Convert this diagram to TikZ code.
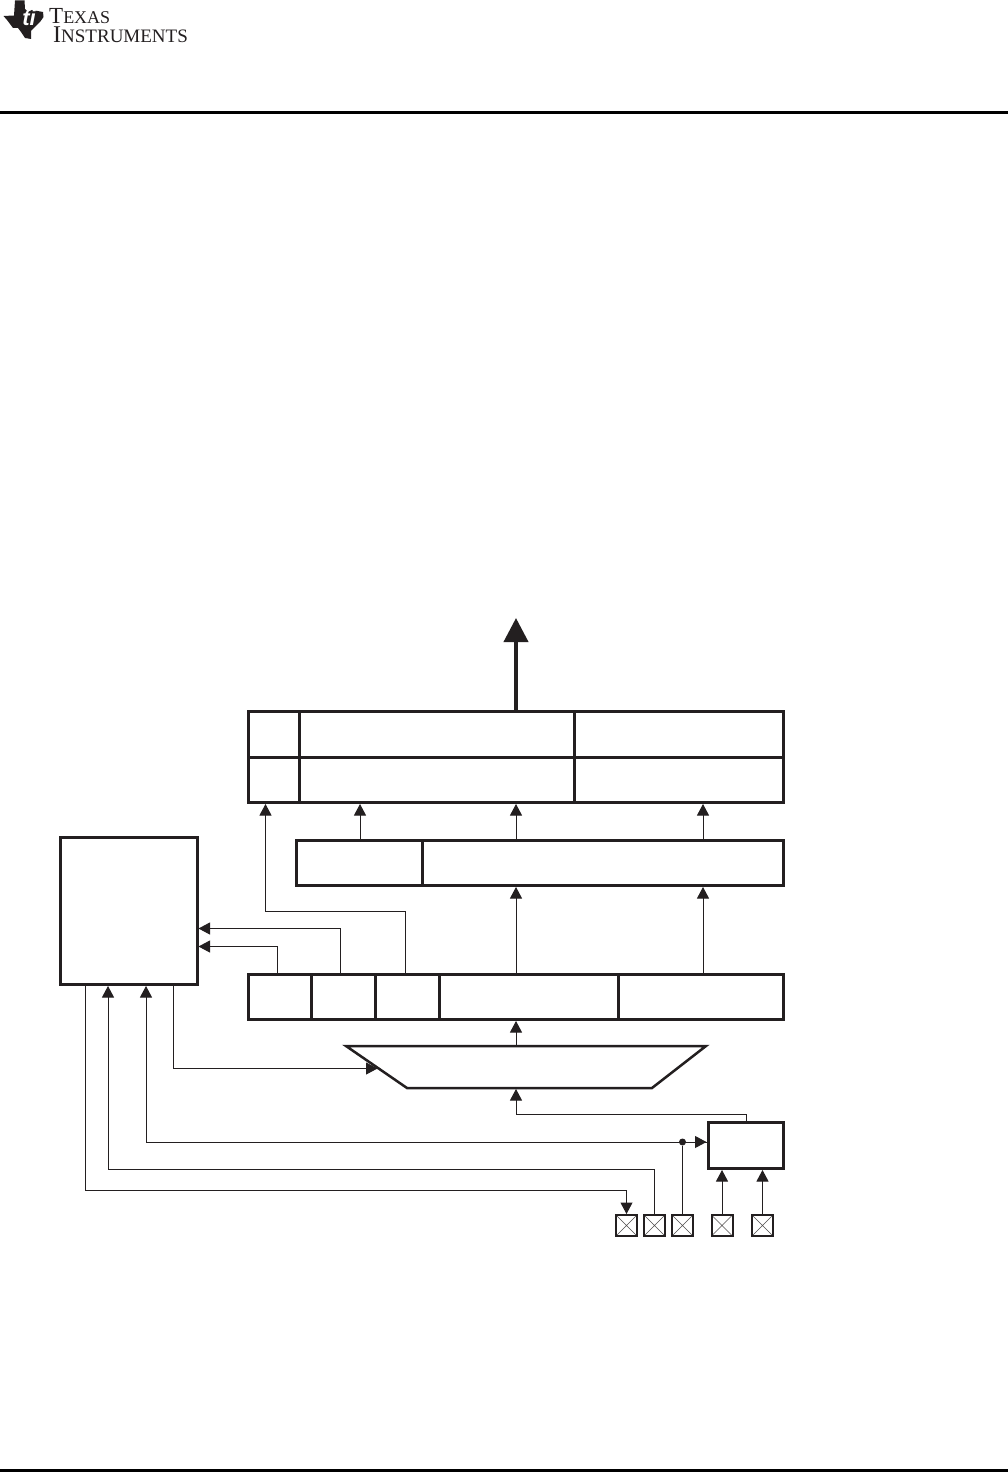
\documentclass[tikz,border=0pt]{standalone}
\usepackage{fontspec}
\setmainfont{Liberation Serif}
\newfontfamily\logosans{Liberation Sans}
\usetikzlibrary{arrows.meta}
\definecolor{ink}{HTML}{231F20}
\newcommand{\cellbox}[5]{\node[boxcell,minimum width={(#4-#2)*1pt},minimum height={(#5-#3)*1pt}] (#1) at ({(#2+#4)/2},{(#3+#5)/2}) {};}
\newcommand{\logoword}[2]{{\fontsize{#1}{19}\selectfont #2}}
\tikzset{
  boxcell/.style={draw=ink,line width=3pt,fill=white,inner sep=0pt},
  pinbox/.style={draw=ink,line width=2pt,fill=white,inner sep=0pt,minimum size=21pt,
    path picture={\draw[ink!80,line width=0.6pt] (path picture bounding box.north west)--(path picture bounding box.south east)
      (path picture bounding box.north east)--(path picture bounding box.south west);}},
  wire/.style={draw=ink,line width=1pt},
  arr/.style={wire,-{Triangle[length=11.5pt,width=12pt]}},
  bigarr/.style={draw=ink,line width=4pt,-{Triangle[length=24pt,width=24pt]}},
  joint/.style={circle,fill=ink,inner sep=0pt,minimum size=7pt},
}
\begin{document}
\begin{tikzpicture}[x=1pt,y=-1pt]
\useasboundingbox (0,0) rectangle (1008,1472);
\fill[white] (0,0) rectangle (1008,1472);
% page furniture
\fill[black] (0,111) rectangle (1008,114);
\fill[black] (0,1469) rectangle (1008,1472);
\fill[ink] (3.5,16) -- (14,15.5) -- (15,0.5) -- (24.5,0.5) -- (25,9) -- (28,12) -- (32,10) -- (43,12) -- (43.5,17) -- (40,22) -- (35,27) -- (31,31) -- (31,39) -- (25,38) -- (21,32) -- (18,28) -- (13,28) -- (10,24) -- (7,20) -- cycle;
\node[white,anchor=center,inner sep=0pt] (logomark) at (29,18) {\logosans\fontsize{22}{22}\selectfont\itshape\bfseries ti};
\node[ink,anchor=base west,inner sep=0pt,align=left,font=\fontsize{19}{19}\selectfont] (logoname) at (49,43) {\logoword{23}{T}\logoword{18}{EXAS}\\\hspace*{4pt}\logoword{24}{I}\logoword{19}{NSTRUMENTS}};
% top register
\cellbox{ta}{248.5}{711.5}{299.5}{757}
\cellbox{tb}{299.5}{711.5}{574.5}{757}
\cellbox{tc}{574.5}{711.5}{783}{757}
\cellbox{tfa}{248.5}{757}{299.5}{802.5}
\cellbox{tfb}{299.5}{757}{574.5}{802.5}
\cellbox{tfc}{574.5}{757}{783}{802.5}
% middle register
\cellbox{ma}{296.5}{840.5}{422.5}{885.5}
\cellbox{mb}{422.5}{840.5}{783}{885.5}
% lower register
\cellbox{la}{248.5}{974.5}{311.5}{1019.5}
\cellbox{lb}{311.5}{974.5}{375.5}{1019.5}
\cellbox{lc}{375.5}{974.5}{439.5}{1019.5}
\cellbox{ld}{439.5}{974.5}{618.5}{1019.5}
\cellbox{le}{618.5}{974.5}{783}{1019.5}
% control and oscillator
\cellbox{ctrl}{60.5}{837}{197}{984.5}
\cellbox{osc}{708}{1122.5}{783}{1168.5}
% pins
\node[pinbox] (p1) at (626.5,1225.5) {};
\node[pinbox] (p2) at (654.5,1225.5) {};
\node[pinbox] (p3) at (682.5,1225.5) {};
\node[pinbox] (p4) at (722,1225.5) {};
\node[pinbox] (p5) at (762.5,1225.5) {};
% mux
\coordinate (mtl) at (346,1046);
\coordinate (mtr) at (706,1046);
\coordinate (mbr) at (652,1088);
\coordinate (mbl) at (407,1088);
\coordinate (mside) at (377.5,1069);
\coordinate (mtop) at (516.5,1045);
\coordinate (mbot) at (516.5,1089);
\draw[ink,line width=2.5pt,line join=miter] (mtl) -- (mtr) -- (mbr) -- (mbl) -- cycle;
% x guides
\coordinate (x85) at (85.5,0);
\coordinate (x108) at (108,0);
\coordinate (x146) at (146,0);
\coordinate (x174) at (173.5,0);
\coordinate (x266) at (265.5,0);
\coordinate (x277) at (277,0);
\coordinate (x341) at (340.5,0);
\coordinate (x360) at (360,0);
\coordinate (x405) at (405,0);
\coordinate (x516) at (516,0);
\coordinate (x703) at (703,0);
\coordinate (x748) at (746.5,0);
\coordinate (y911) at (0,911);
\coordinate (y929) at (0,928.5);
\coordinate (y947) at (0,946.5);
\coordinate (y1069) at (0,1068.5);
\coordinate (y1114) at (0,1114);
\coordinate (y1141) at (0,1142);
\coordinate (y1169) at (0,1169);
\coordinate (y1190) at (0,1190);
% connectors
\coordinate (bigtip) at (516,618);
\draw[bigarr] (tb.north -| x516) -- (bigtip);
\draw[arr] (lc.north -| x405) -- (x405 |- y911) -- (x266 |- y911) -- (x266 |- tfa.south);
\draw[arr] (ma.north -| x360) -- (x360 |- tfb.south);
\draw[arr] (mb.north -| x516) -- (x516 |- tfb.south);
\draw[arr] (mb.north -| x703) -- (x703 |- tfc.south);
\draw[arr] (ld.north -| x516) -- (x516 |- mb.south);
\draw[arr] (le.north -| x703) -- (x703 |- mb.south);
\draw[arr] (lb.north -| x341) -- (x341 |- y929) -- (ctrl.east |- y929);
\draw[arr] (la.north -| x277) -- (x277 |- y947) -- (ctrl.east |- y947);
\draw[arr] (mtop -| x516) -- (x516 |- ld.south);
\draw[arr] (osc.north -| x748) -- (x748 |- y1114) -- (x516 |- y1114) -- (mbot -| x516);
\draw[arr] (ctrl.south -| x174) -- (x174 |- y1069) -- (mside |- y1069);
\draw[arr] (ctrl.south -| x85) -- (x85 |- y1190) -- (p1.north |- y1190) -- (p1.north);
\draw[arr] (p2.north) -- (p2.north |- y1169) -- (x108 |- y1169) -- (x108 |- ctrl.south);
\draw[arr] (osc.west |- y1141) -- (x146 |- y1141) -- (x146 |- ctrl.south);
\node[joint] (dot) at (p3.north |- y1141) {};
\draw[wire] (p3.north) -- (dot);
\draw[arr] (dot) -- (osc.west |- y1141);
\draw[arr] (p4.north) -- (p4.north |- osc.south);
\draw[arr] (p5.north) -- (p5.north |- osc.south);
\end{tikzpicture}
\end{document}
